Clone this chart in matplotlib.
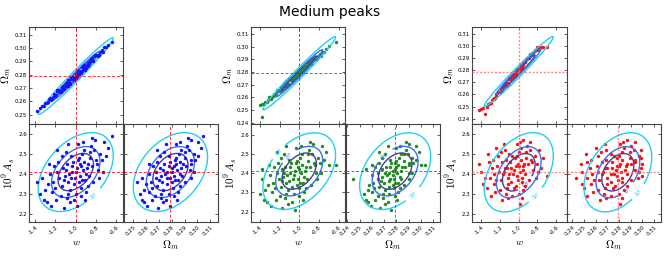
import numpy as np
import matplotlib
matplotlib.use("Agg")
import matplotlib.pyplot as plt
from matplotlib.ticker import MultipleLocator, FormatStrFormatter

plt.rcParams.update({
    "mathtext.fontset": "cm",
    "font.size": 6,
    "xtick.labelsize": 4,
    "ytick.labelsize": 4,
    "xtick.direction": "in",
    "ytick.direction": "in",
    "xtick.top": True,
    "ytick.right": True,
    "xtick.major.size": 2.5,
    "ytick.major.size": 2.5,
    "axes.edgecolor": "#444444",
    "axes.linewidth": 0.8,
})

# fiducial values
FID_W, FID_OM, FID_AS = -1.0, 0.279, 2.41

# Fisher-like forecast widths (1-unit sigmas) and correlations
SIG_W, SIG_OM, SIG_AS = 0.115, 0.0090, 0.062
RHO_W_OM, RHO_W_AS, RHO_OM_AS = 0.985, 0.42, 0.38
LEVELS = [2.3, 4.3, 10.3]
LEVEL_NAMES = [r"$1\sigma$", r"$2\sigma$", r"$3\sigma$"]
LEVEL_COLS = ["#473c9c", "#3b6ff0", "#1fd0f2"]

# samples: (w, Omega_m, 10^9 A_s)
BLUE_W = [-1.00, -0.95, -1.05, -0.92, -1.08, -0.98, -1.02, -0.90, -1.10, -0.96,
          -1.04, -0.88, -1.12, -0.94, -1.06, -0.99, -1.01, -0.86, -1.14, -0.93,
          -1.07, -0.97, -1.03, -0.91, -1.09, -0.95, -1.05, -0.89, -1.11, -0.97,
          -1.00, -0.84, -1.16, -0.92, -1.08, -0.87, -1.13, -0.96, -1.04, -0.94,
          -1.20, -0.80, -1.18, -0.82, -1.22, -0.78, -1.15, -0.85, -1.25, -0.76,
          -1.02, -0.98, -1.17, -0.83, -1.23, -0.79, -1.10, -0.90, -1.19, -0.81,
          -1.06, -0.93, -1.27, -0.74, -1.14, -0.88, -1.21, -0.86, -1.09, -0.95,
          -1.30, -0.70, -1.33, -0.68, -1.28, -0.72, -1.24, -0.64, -1.35, -1.12,
          -0.99, -0.77, -1.26, -0.84, -1.18, -1.31, -0.73, -1.08, -0.91, -1.38]
BLUE_OM = [0.2805, 0.2820, 0.2765, 0.2862, 0.2728, 0.2824, 0.2766, 0.2861, 0.2734, 0.2815,
           0.2779, 0.2885, 0.2702, 0.2855, 0.2735, 0.2805, 0.2785, 0.2904, 0.2686, 0.2845,
           0.2750, 0.2804, 0.2786, 0.2849, 0.2741, 0.2812, 0.2778, 0.2876, 0.2714, 0.2830,
           0.2775, 0.2915, 0.2675, 0.2872, 0.2718, 0.2878, 0.2712, 0.2830, 0.2767, 0.2827,
           0.2643, 0.2947, 0.2675, 0.2938, 0.2635, 0.2943, 0.2673, 0.2920, 0.2622, 0.2971,
           0.2759, 0.2831, 0.2687, 0.2903, 0.2620, 0.2947, 0.2740, 0.2850, 0.2646, 0.2949,
           0.2733, 0.2864, 0.2598, 0.2985, 0.2708, 0.2868, 0.2652, 0.2905, 0.2716, 0.2820,
           0.2584, 0.3006, 0.2568, 0.3026, 0.2586, 0.3006, 0.2610, 0.3045, 0.2550, 0.2696,
           0.2785, 0.2950, 0.2620, 0.2923, 0.2684, 0.2568, 0.2974, 0.2759, 0.2839, 0.2530]
BLUE_AS = [2.41, 2.44, 2.38, 2.46, 2.36, 2.47, 2.35, 2.40, 2.42, 2.39,
           2.44, 2.45, 2.37, 2.50, 2.32, 2.43, 2.38, 2.48, 2.34, 2.42,
           2.40, 2.36, 2.46, 2.37, 2.45, 2.33, 2.49, 2.43, 2.39, 2.48,
           2.30, 2.44, 2.38, 2.52, 2.30, 2.39, 2.43, 2.45, 2.41, 2.37,
           2.33, 2.47, 2.41, 2.52, 2.36, 2.42, 2.29, 2.54, 2.40, 2.50,
           2.27, 2.55, 2.46, 2.36, 2.31, 2.45, 2.51, 2.31, 2.27, 2.57,
           2.26, 2.56, 2.35, 2.47, 2.49, 2.34, 2.44, 2.51, 2.28, 2.29,
           2.32, 2.49, 2.38, 2.53, 2.26, 2.56, 2.24, 2.59, 2.30, 2.23,
           2.24, 2.38, 2.45, 2.58, 2.52, 2.27, 2.41, 2.55, 2.27, 2.36]

GREEN_W = [-1.05, -1.00, -1.10, -0.97, -1.13, -1.03, -1.07, -0.95, -1.15, -1.01,
           -1.09, -0.93, -1.17, -0.99, -1.11, -1.04, -1.06, -0.91, -1.19, -0.98,
           -1.12, -1.02, -1.08, -0.96, -1.14, -1.00, -1.10, -0.94, -1.16, -1.02,
           -1.05, -0.89, -1.21, -0.97, -1.13, -0.92, -1.18, -1.01, -1.09, -0.99,
           -1.25, -0.85, -1.23, -0.87, -1.27, -0.83, -1.20, -0.90, -1.30, -0.81,
           -1.07, -1.03, -1.22, -0.88, -1.28, -0.84, -1.15, -0.95, -1.24, -0.86,
           -1.11, -0.98, -1.32, -0.79, -1.19, -0.93, -1.26, -0.91, -1.14, -1.00,
           -1.35, -0.75, -1.38, -0.73, -1.33, -0.77, -1.29, -0.70, -1.40, -1.17,
           -1.04, -0.82, -1.31, -0.89, -1.23, -1.36, -0.78, -1.13, -0.96, -1.38,
           -0.63]
GREEN_OM = [0.2770, 0.2785, 0.2741, 0.2810, 0.2699, 0.2790, 0.2737, 0.2832, 0.2705, 0.2780,
            0.2747, 0.2847, 0.2676, 0.2818, 0.2706, 0.2771, 0.2752, 0.2864, 0.2660, 0.2808,
            0.2720, 0.2770, 0.2755, 0.2810, 0.2713, 0.2778, 0.2746, 0.2837, 0.2687, 0.2796,
            0.2743, 0.2873, 0.2651, 0.2834, 0.2690, 0.2840, 0.2684, 0.2795, 0.2736, 0.2791,
            0.2621, 0.2903, 0.2651, 0.2895, 0.2613, 0.2900, 0.2648, 0.2878, 0.2601, 0.2926,
            0.2728, 0.2796, 0.2662, 0.2862, 0.2599, 0.2904, 0.2711, 0.2813, 0.2624, 0.2905,
            0.2704, 0.2826, 0.2579, 0.2939, 0.2681, 0.2830, 0.2629, 0.2864, 0.2689, 0.2786,
            0.2566, 0.2958, 0.2445, 0.2981, 0.2567, 0.2959, 0.2590, 0.3003, 0.2536, 0.2670,
            0.2753, 0.2906, 0.2600, 0.2882, 0.2659, 0.2550, 0.2928, 0.2729, 0.2802, 0.2550,
            0.3035]
GREEN_AS = [2.39, 2.42, 2.36, 2.44, 2.35, 2.45, 2.33, 2.38, 2.40, 2.37,
            2.43, 2.43, 2.36, 2.48, 2.31, 2.41, 2.37, 2.46, 2.33, 2.40,
            2.39, 2.34, 2.45, 2.35, 2.43, 2.32, 2.47, 2.41, 2.38, 2.46,
            2.29, 2.43, 2.37, 2.50, 2.29, 2.37, 2.42, 2.43, 2.40, 2.35,
            2.32, 2.45, 2.40, 2.50, 2.35, 2.40, 2.28, 2.52, 2.39, 2.48,
            2.25, 2.53, 2.45, 2.34, 2.30, 2.44, 2.50, 2.30, 2.26, 2.55,
            2.24, 2.54, 2.34, 2.45, 2.48, 2.32, 2.43, 2.50, 2.27, 2.28,
            2.31, 2.47, 2.37, 2.51, 2.25, 2.54, 2.23, 2.44, 2.29, 2.22,
            2.21, 2.37, 2.44, 2.56, 2.51, 2.26, 2.40, 2.54, 2.26, 2.42,
            2.44]

RED_W = [-1.05, -1.00, -1.10, -0.98, -1.12, -1.04, -1.08, -0.96, -1.15, -1.02,
         -1.09, -0.94, -1.17, -1.00, -1.11, -1.03, -1.06, -0.92, -1.19, -0.99,
         -1.13, -1.01, -1.07, -0.97, -1.14, -1.03, -1.10, -0.95, -1.16, -1.02,
         -1.05, -0.90, -1.21, -0.98, -1.13, -0.93, -1.18, -1.01, -1.08, -0.97,
         -1.24, -0.87, -1.23, -0.88, -1.26, -0.85, -1.20, -0.91, -1.29, -0.83,
         -1.07, -1.02, -1.22, -0.89, -1.27, -0.86, -1.15, -0.95, -1.25, -0.88,
         -1.12, -0.99, -1.31, -0.80, -1.19, -0.93, -1.28, -0.92, -1.14, -1.00,
         -1.32, -0.76, -1.36, -0.74, -1.34, -0.78, -1.30, -0.70, -1.40, -1.18,
         -0.99, -0.82, -1.33, -0.95, -1.24, -1.38, -0.79, -1.16, -0.97, -1.42]
RED_OM = [0.2771, 0.2802, 0.2729, 0.2824, 0.2694, 0.2786, 0.2728, 0.2849, 0.2682, 0.2786,
          0.2738, 0.2869, 0.2652, 0.2823, 0.2698, 0.2785, 0.2754, 0.2890, 0.2631, 0.2819,
          0.2696, 0.2791, 0.2757, 0.2828, 0.2692, 0.2769, 0.2734, 0.2857, 0.2664, 0.2803,
          0.2750, 0.2904, 0.2617, 0.2843, 0.2678, 0.2867, 0.2654, 0.2806, 0.2738, 0.2828,
          0.2587, 0.2934, 0.2609, 0.2929, 0.2573, 0.2939, 0.2618, 0.2904, 0.2552, 0.2968,
          0.2731, 0.2808, 0.2621, 0.2900, 0.2559, 0.2938, 0.2686, 0.2844, 0.2575, 0.2932,
          0.2688, 0.2833, 0.2527, 0.2994, 0.2647, 0.2865, 0.2563, 0.2890, 0.2673, 0.2803,
          0.2524, 0.2990, 0.2435, 0.2990, 0.2498, 0.2985, 0.2530, 0.2995, 0.2480, 0.2638,
          0.2807, 0.2966, 0.2521, 0.2865, 0.2606, 0.2488, 0.2971, 0.2681, 0.2822, 0.2472]
RED_AS = [2.42, 2.44, 2.40, 2.47, 2.38, 2.48, 2.36, 2.42, 2.43, 2.39,
          2.46, 2.45, 2.40, 2.51, 2.35, 2.44, 2.40, 2.48, 2.37, 2.41,
          2.43, 2.37, 2.49, 2.38, 2.47, 2.34, 2.50, 2.44, 2.41, 2.49,
          2.33, 2.45, 2.41, 2.53, 2.33, 2.40, 2.46, 2.45, 2.43, 2.36,
          2.37, 2.47, 2.44, 2.52, 2.40, 2.42, 2.32, 2.54, 2.43, 2.49,
          2.29, 2.55, 2.49, 2.37, 2.35, 2.46, 2.52, 2.32, 2.31, 2.56,
          2.28, 2.56, 2.38, 2.45, 2.51, 2.34, 2.47, 2.51, 2.30, 2.30,
          2.46, 2.43, 2.38, 2.48, 2.33, 2.52, 2.29, 2.39, 2.41, 2.27,
          2.25, 2.38, 2.50, 2.57, 2.53, 2.35, 2.41, 2.55, 2.28, 2.45]

# per-triangle axis ranges
W_LIMS = [(-1.46, -0.53), (-1.49, -0.53), (-1.50, -0.49)]
OM_LIMS = [(0.2425, 0.316), (0.2386, 0.3155), (0.2352, 0.3158)]
AS_LIMS = [(2.158, 2.65), (2.146, 2.652), (2.16, 2.65)]

SAMPLES = [(BLUE_W, BLUE_OM, BLUE_AS, "#1414ff"),
           (GREEN_W, GREEN_OM, GREEN_AS, "#228b22"),
           (RED_W, RED_OM, RED_AS, "#ff1010")]

# contour label spots: (panel, level index, x, y)
LABEL_SPOTS = [
    [("bl", 2, -0.80, 2.28)],
    [("bl", 2, -1.25, 2.53), ("bl", 1, -1.12, 2.50),
     ("br", 1, 0.271, 2.49), ("br", 2, 0.292, 2.30)],
    [("bl", 2, -0.83, 2.30), ("bl", 0, -0.90, 2.34),
     ("br", 2, 0.299, 2.30), ("br", 1, 0.2855, 2.33)],
]

W_PX, H_PX = 664, 277
LEFTS = [29, 251, 472]
PW, PH = 94.5, 97.5
TOP = 27


def contour_pair(ax, xlim, ylim, cx, cy, sx, sy, rho, spots, panel):
    gx = np.linspace(xlim[0], xlim[1], 300)
    gy = np.linspace(ylim[0], ylim[1], 300)
    X, Y = np.meshgrid(gx, gy)
    dx, dy = (X - cx) / sx, (Y - cy) / sy
    chi2 = (dx ** 2 - 2 * rho * dx * dy + dy ** 2) / (1 - rho ** 2)
    for li, (lev, col) in enumerate(zip(LEVELS, LEVEL_COLS)):
        cs = ax.contour(X, Y, chi2, levels=[lev], colors=[col],
                        linewidths=1.0, zorder=2.5)
        pts = [(lx, ly) for (p, k, lx, ly) in spots if p == panel and k == li]
        if pts:
            ax.clabel(cs, inline=True, fontsize=5,
                      fmt={lev: LEVEL_NAMES[li]}, manual=pts)


def style(ax):
    ax.tick_params(which="both", width=0.6, color="#444444", pad=1.5)


fig = plt.figure(figsize=(W_PX / 100, H_PX / 100), dpi=100)

for t in range(3):
    ws, oms, ass, col = SAMPLES[t]
    wl, ol, al = W_LIMS[t], OM_LIMS[t], AS_LIMS[t]
    left = LEFTS[t]
    pz = 3 if t == 0 else 2

    ax_tl = fig.add_axes([left / W_PX, 1 - (TOP + PH) / H_PX, PW / W_PX, PH / H_PX])
    ax_bl = fig.add_axes([left / W_PX, 1 - (TOP + 2 * PH) / H_PX, PW / W_PX, PH / H_PX])
    ax_br = fig.add_axes([(left + PW) / W_PX, 1 - (TOP + 2 * PH) / H_PX, PW / W_PX, PH / H_PX])

    ax_tl.scatter(ws, oms, s=6, c=col, linewidths=0, zorder=pz)
    contour_pair(ax_tl, wl, ol, FID_W, FID_OM, SIG_W, SIG_OM, RHO_W_OM, LABEL_SPOTS[t], "tl")
    ax_bl.scatter(ws, ass, s=6, c=col, linewidths=0, zorder=pz)
    contour_pair(ax_bl, wl, al, FID_W, FID_AS, SIG_W, SIG_AS, RHO_W_AS, LABEL_SPOTS[t], "bl")
    ax_br.scatter(oms, ass, s=6, c=col, linewidths=0, zorder=pz)
    contour_pair(ax_br, ol, al, FID_OM, FID_AS, SIG_OM, SIG_AS, RHO_OM_AS, LABEL_SPOTS[t], "br")

    dash = dict(color="red", ls=(0, (3, 2)), lw=0.7, alpha=0.8, zorder=4)
    if t == 2:
        dash = dict(color="#ff6a6a", ls=(0, (1.5, 1.2)), lw=1.0, alpha=0.8, zorder=4)
    ax_tl.axvline(FID_W, **dash); ax_tl.axhline(FID_OM, **dash)
    ax_bl.axvline(FID_W, **dash); ax_bl.axhline(FID_AS, **dash)
    ax_br.axvline(FID_OM, **dash); ax_br.axhline(FID_AS, **dash)

    ax_tl.set_xlim(wl); ax_tl.set_ylim(ol)
    ax_bl.set_xlim(wl); ax_bl.set_ylim(al)
    ax_br.set_xlim(ol); ax_br.set_ylim(al)

    for ax in (ax_tl, ax_bl):
        ax.xaxis.set_major_locator(MultipleLocator(0.2))
        ax.xaxis.set_major_formatter(FormatStrFormatter("%.1f"))
    ax_tl.yaxis.set_major_locator(MultipleLocator(0.01))
    ax_tl.yaxis.set_major_formatter(FormatStrFormatter("%.2f"))
    ax_br.xaxis.set_major_locator(MultipleLocator(0.01))
    ax_br.xaxis.set_major_formatter(FormatStrFormatter("%.2f"))
    for ax in (ax_bl, ax_br):
        ax.yaxis.set_major_locator(MultipleLocator(0.1))
        ax.yaxis.set_major_formatter(FormatStrFormatter("%.1f"))

    ax_tl.tick_params(labelbottom=False)
    ax_br.tick_params(labelleft=False)
    for ax in (ax_bl, ax_br):
        for lab in ax.get_xticklabels():
            lab.set_rotation(45)
            lab.set_ha("right")
            lab.set_rotation_mode("anchor")
    for ax in (ax_tl, ax_bl, ax_br):
        style(ax)

    ax_tl.set_ylabel(r"$\Omega_m$", fontsize=8, labelpad=1)
    ax_bl.set_ylabel(r"$10^9\,A_s$", fontsize=8, labelpad=1)
    ax_bl.set_xlabel(r"$w$", fontsize=7, labelpad=1)
    ax_br.set_xlabel(r"$\Omega_m$", fontsize=8, labelpad=1)

fig.text(0.497, 0.955, "Medium peaks", ha="center", va="center", fontsize=10)

fig.savefig("out.png", dpi=100)
